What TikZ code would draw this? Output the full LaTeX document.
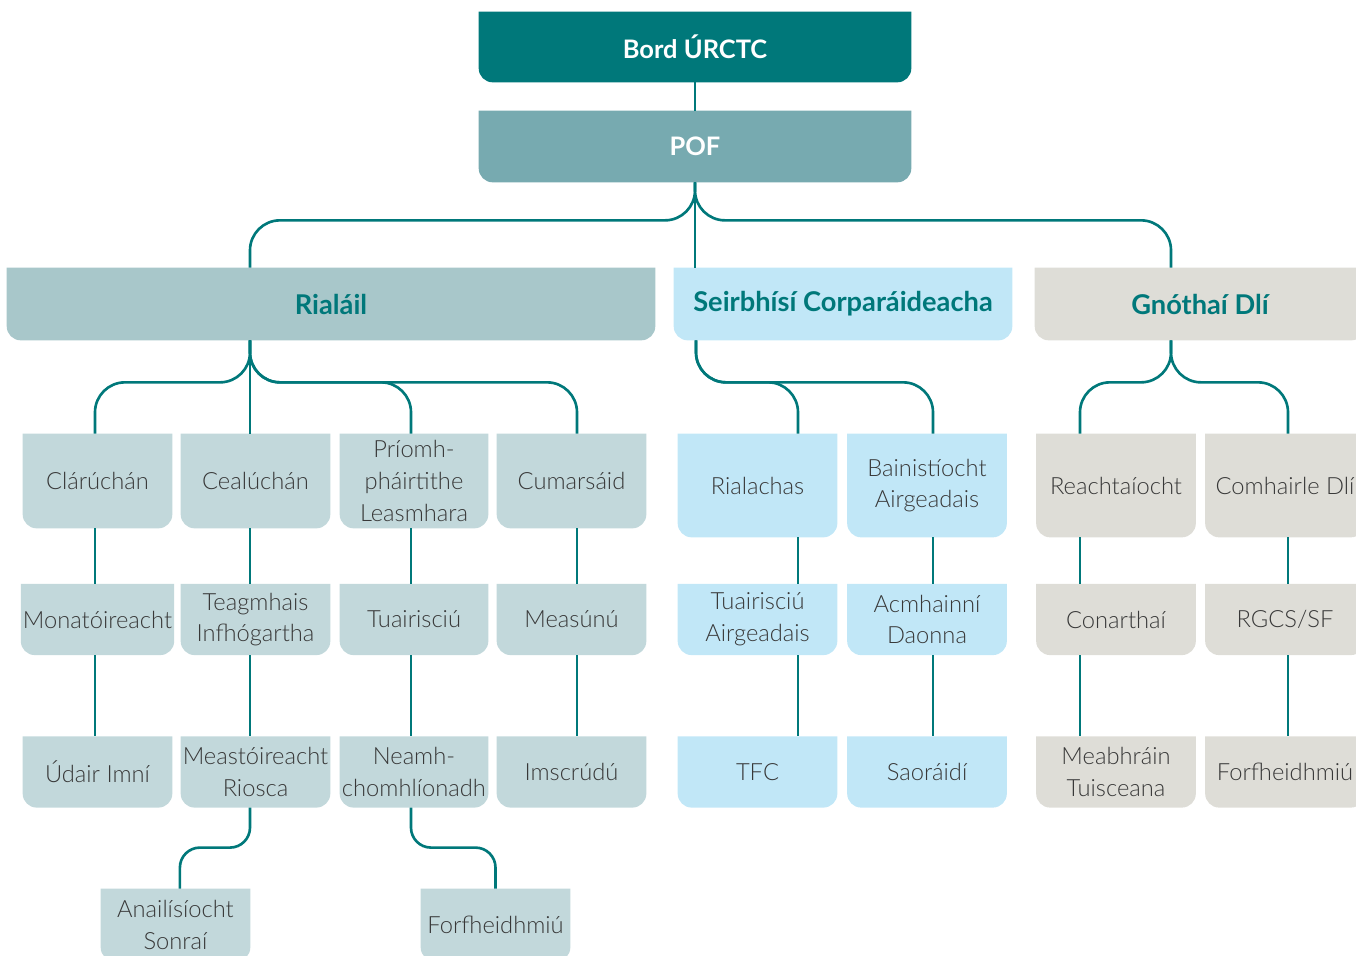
\documentclass[tikz,border=0pt]{standalone}
\usepackage{fontspec}
\setmainfont{Lato}[UprightFont={* Light},BoldFont={* Bold}]
\usetikzlibrary{backgrounds}

\definecolor{ucteal}{HTML}{00787A}
\definecolor{pofc}{HTML}{77AAB0}
\definecolor{rialhd}{HTML}{A8C7CA}
\definecolor{rialbx}{HTML}{C2D8DB}
\definecolor{seirbc}{HTML}{C1E7F7}
\definecolor{gnothc}{HTML}{DEDDD7}
\definecolor{txtgrey}{HTML}{383838}

\tikzset{
  box/.style={inner sep=1pt, align=center, text=txtgrey,
    font=\fontsize{13.5}{18}\selectfont,
    append after command={\pgfextra{\begin{pgfonlayer}{background}
      \fill[#1] (\tikzlastnode.north west)
        -- ([yshift=0.28cm]\tikzlastnode.south west)
        arc[start angle=180, end angle=270, radius=0.28cm]
        -- ([xshift=-0.28cm]\tikzlastnode.south east)
        arc[start angle=270, end angle=360, radius=0.28cm]
        -- (\tikzlastnode.north east) -- cycle;
      \end{pgfonlayer}}}},
  head/.style={box=#1, text=ucteal, font=\fontsize{15.5}{18}\bfseries,
    minimum height=1.44cm},
  rbox/.style={box=rialbx, minimum width=2.98cm, minimum height=1.41cm},
  sbox/.style={box=#1, minimum width=3.18cm, minimum height=1.41cm},
  link/.style={draw=ucteal, line width=1.5pt, rounded corners=0.6cm},
}

\begin{document}
\begin{tikzpicture}[x=0.02cm, y=0.02cm]
  \useasboundingbox (0,0) rectangle (1356,-956);

  % top of the tree
  \node[box=ucteal, text=white, font=\fontsize{14.5}{18}\bfseries,
    minimum width=8.64cm, minimum height=1.4cm] (bord) at (695,-47) {Bord ÚRCTC};
  \node[box=pofc, text=white, font=\fontsize{14.5}{18}\bfseries,
    minimum width=8.64cm, minimum height=1.42cm] (pof) at (695,-146.5) {POF};

  % the three divisions
  \node[head=rialhd, minimum width=12.96cm] (rial) at (331,-304) {Rialáil};
  \node[head=seirbc, minimum width=6.76cm] (seirb) at (843,-304) {Seirbhísí Corparáideacha};
  \node[head=gnothc, minimum width=6.6cm] (gnoth) at (1200,-304) {Gnóthaí Dlí};

  % Rialail
  \node[rbox, minimum height=1.88cm] (clar) at (97.5,-481) {Clárúchán};
  \node[rbox, minimum height=1.88cm] (ceal) at (255.5,-481) {Cealúchán};
  \node[rbox, minimum height=1.88cm, minimum width=2.96cm] (priomh) at (414,-481) {Príomh-\\pháirtithe\\Leasmhara};
  \node[rbox, minimum height=1.88cm] (cumar) at (571.5,-481) {Cumarsáid};
  \node[rbox] (monat) at (97.5,-619.5) {Monatóireacht};
  \node[rbox] (teagm) at (255.5,-619.5) {Teagmhais\\Infhógartha};
  \node[rbox, minimum width=2.96cm] (tuair) at (414,-619.5) {Tuairisciú};
  \node[rbox] (measu) at (571.5,-619.5) {Measúnú};
  \node[rbox] (udair) at (97.5,-772) {Údair Imní};
  \node[rbox] (meast) at (255.5,-772) {Meastóireacht\\Riosca};
  \node[rbox, minimum width=2.96cm] (neamh) at (414,-772) {Neamh-\\chomhlíonadh};
  \node[rbox] (imscr) at (571.5,-772) {Imscrúdú};
  \node[rbox, minimum height=1.44cm] (anail) at (175.5,-925) {Anailísíocht\\Sonraí};
  \node[rbox, minimum height=1.44cm] (forfR) at (495.5,-925) {Forfheidhmiú};

  % Seirbhisi Corparaideacha
  \node[sbox=seirbc, minimum height=2.06cm] (rialach) at (757.5,-485.5) {Rialachas};
  \node[sbox=seirbc, minimum height=2.06cm] (bainist) at (927,-485.5) {Bainistíocht\\Airgeadais};
  \node[sbox=seirbc] (tuairA) at (757.5,-619.5) {Tuairisciú\\Airgeadais};
  \node[sbox=seirbc] (acmh) at (927,-619.5) {Acmhainní\\Daonna};
  \node[sbox=seirbc] (tfc) at (757.5,-772) {TFC};
  \node[sbox=seirbc] (saor) at (927,-772) {Saoráidí};

  % Gnothai Dli
  \node[sbox=gnothc, minimum height=2.06cm] (reacht) at (1116,-485.5) {Reachtaíocht};
  \node[sbox=gnothc, minimum height=2.06cm] (comh) at (1285,-485.5) {Comhairle Dlí};
  \node[sbox=gnothc] (conar) at (1116,-619.5) {Conarthaí};
  \node[sbox=gnothc] (rgcs) at (1285,-619.5) {RGCS/SF};
  \node[sbox=gnothc] (meabh) at (1116,-772) {Meabhráin\\Tuisceana};
  \node[sbox=gnothc] (forfG) at (1285,-772) {Forfheidhmiú};

  % where the lines run
  \coordinate (rtr) at (250,0);
  \coordinate (gtr) at (1171,0);
  \coordinate (str) at (696,0);
  \coordinate (rl1) at (95,0);
  \coordinate (rl3) at (411,0);
  \coordinate (rl4) at (577,0);
  \coordinate (sl1) at (798,0);
  \coordinate (sl2) at (933,0);
  \coordinate (gl1) at (1080,0);
  \coordinate (gl2) at (1288,0);

  \draw[link] (bord.south) -- (pof.north);
  \draw[link] (pof.south) -- (pof.south |- seirb.north);
  \draw[link] (pof.south) -- ++(0,-38) -| (rial.north -| rtr);
  \draw[link] (pof.south) -- ++(0,-38) -| (gnoth.north -| gtr);

  \draw[link] (rial.south -| rtr) -- (ceal.north -| rtr);
  \foreach \n/\l in {clar/rl1, priomh/rl3, cumar/rl4}
    \draw[link] (rial.south -| rtr) -- ++(0,-42) -| (\n.north -| \l);
  \foreach \n/\l in {rialach/sl1, bainist/sl2}
    \draw[link] (seirb.south -| str) -- ++(0,-42) -| (\n.north -| \l);
  \foreach \n/\l in {reacht/gl1, comh/gl2}
    \draw[link] (gnoth.south -| gtr) -- ++(0,-42) -| (\n.north -| \l);

  \foreach \a/\b/\l in {clar/monat/rl1, monat/udair/rl1, ceal/teagm/rtr,
      teagm/meast/rtr, priomh/tuair/rl3, tuair/neamh/rl3, cumar/measu/rl4,
      measu/imscr/rl4, rialach/tuairA/sl1, tuairA/tfc/sl1, bainist/acmh/sl2,
      acmh/saor/sl2, reacht/conar/gl1, conar/meabh/gl1, comh/rgcs/gl2,
      rgcs/forfG/gl2}
    \draw[link] (\a.south -| \l) -- (\b.north -| \l);

  \draw[link, rounded corners=0.4cm] (meast.south -| rtr) -- ++(0,-40) -| ([xshift=2.5]anail.north);
  \draw[link, rounded corners=0.4cm] (neamh.south -| rl3) -- ++(0,-40) -| (forfR.north);
\end{tikzpicture}
\end{document}
